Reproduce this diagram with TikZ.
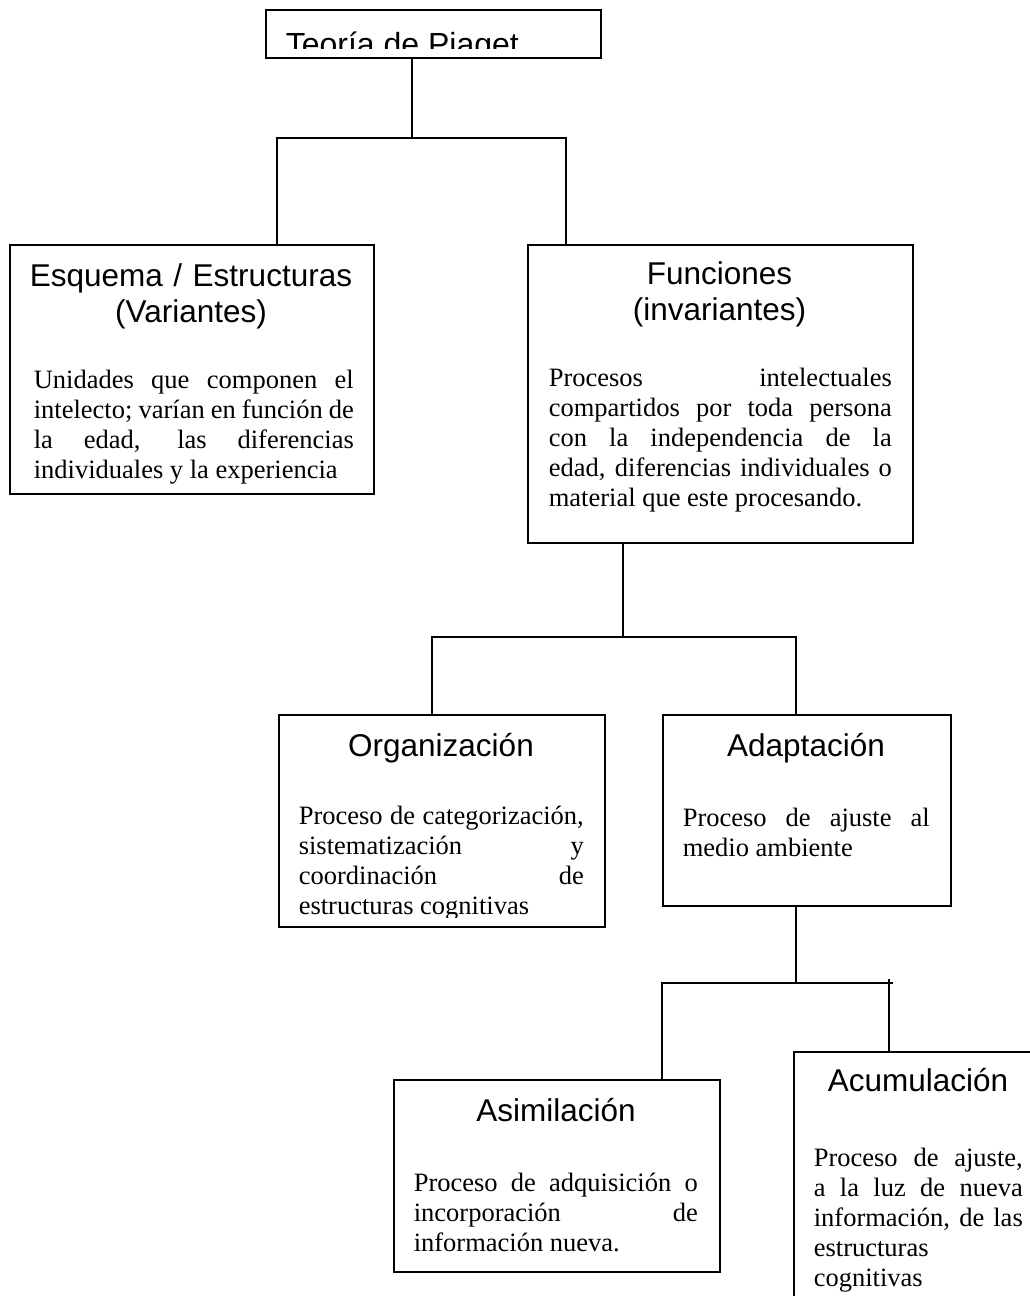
\documentclass[tikz,border=0pt]{standalone}
\usepackage{fontspec}
\setmainfont{Liberation Serif}
\setsansfont{Liberation Sans}
\usepackage{tikz}

\newcommand{\jline}[1]{\makebox[\linewidth][s]{\spaceskip=0pt\xspaceskip=0pt #1}}
\newcommand{\headfont}{\sffamily\fontsize{31.5}{36}\selectfont}
\newcommand{\bodyfont}{\rmfamily\fontsize{26.5}{30}\selectfont}

\begin{document}
\begin{tikzpicture}[x=1pt,y=-1pt,line width=1.6pt,
  box/.style={draw,inner sep=0pt,anchor=north west},
  head/.style={font=\headfont,align=center,inner sep=0pt,anchor=base},
  body/.style={font=\bodyfont,align=justify,inner sep=0pt,anchor=base west}]
\clip (0,0) rectangle (1030,1296);

% cajas
\node[box,minimum width=335pt,minimum height=48pt] (teoria) at (265,9) {};
\node[box,minimum width=364pt,minimum height=249pt] (esquema) at (9,244) {};
\node[box,minimum width=385pt,minimum height=298pt] (funciones) at (527,244) {};
\node[box,minimum width=326pt,minimum height=212pt] (organizacion) at (278,714) {};
\node[box,minimum width=288pt,minimum height=191pt] (adaptacion) at (662,714) {};
\node[box,minimum width=326pt,minimum height=192pt] (asimilacion) at (393,1079) {};
\node[box,minimum width=250pt,minimum height=270pt] (acumulacion) at (793,1051) {};

% textos
\begin{scope}
\clip (265,9) rectangle (600,48);
\node[font=\sffamily\fontsize{32}{38}\selectfont,inner sep=0pt,anchor=base west] (titulo) at (285,55) {Teoría de Piaget};
\end{scope}

\node[head,text width=364pt] (esquemat) at (191,286) {Esquema / Estructuras\\(Variantes)};
\begin{scope}
\clip (9,244) rectangle (373,483);
\node[body,text width=320pt] (esquemab) at (33,388) {\jline{Unidades que componen el}\\
  \jline{intelecto; varían en función de}\\
  \jline{la edad, las diferencias}\\
  individuales y la experiencia};
\end{scope}

\node[head,text width=385pt] (funcionest) at (719.5,284) {Funciones\\(invariantes)};
\node[body,text width=343pt] (funcionesb) at (548,386) {\jline{Procesos intelectuales}\\
  \jline{compartidos por toda persona}\\
  \jline{con la independencia de la}\\
  \jline{edad, diferencias individuales o}\\
  material que este procesando.};

\node[head,text width=326pt] (organizaciont) at (441,756) {Organización};
\begin{scope}
\clip (278,714) rectangle (604,917);
\node[body,text width=285pt] (organizacionb) at (298,824) {\jline{Proceso de categorización,}\\
  \jline{sistematización y}\\
  \jline{coordinación de}\\
  estructuras cognitivas};
\end{scope}

\node[head,text width=288pt] (adaptaciont) at (806,756) {Adaptación};
\node[body,text width=247pt] (adaptacionb) at (682,826) {\jline{Proceso de ajuste al}\\
  medio ambiente};

\node[head,text width=326pt] (asimilaciont) at (556,1121) {Asimilación};
\node[body,text width=284pt] (asimilacionb) at (413,1191) {\jline{Proceso de adquisición o}\\
  \jline{incorporación de}\\
  información nueva.};

\node[head,text width=250pt] (acumulaciont) at (918,1091) {Acumulación};
\node[body,text width=209pt] (acumulacionb) at (813,1166) {\jline{Proceso de ajuste,}\\
  \jline{a la luz de nueva}\\
  \jline{información, de las}\\
  estructuras\\
  cognitivas};

% conectores
\coordinate (j1) at (412,138);
\coordinate (e1) at (277,138);
\coordinate (f1) at (566,138);
\draw (teoria.south -| j1) -- (j1);
\draw (esquema.north -| e1) -- (e1) -- (f1) -- (funciones.north -| f1);

\coordinate (j2) at (623,637);
\coordinate (o1) at (432,637);
\coordinate (a1) at (796,637);
\draw (funciones.south -| j2) -- (j2);
\draw (organizacion.north -| o1) -- (o1) -- (a1) -- (adaptacion.north -| a1);

\coordinate (j3) at (796,983);
\coordinate (s1) at (662,983);
\coordinate (c1) at (889,983);
\draw (adaptacion.south -| j3) -- (j3);
\draw (asimilacion.north -| s1) -- (s1) -- ([xshift=4pt]c1);
\draw ([yshift=4pt]c1) -- (acumulacion.north -| c1);
\end{tikzpicture}
\end{document}
